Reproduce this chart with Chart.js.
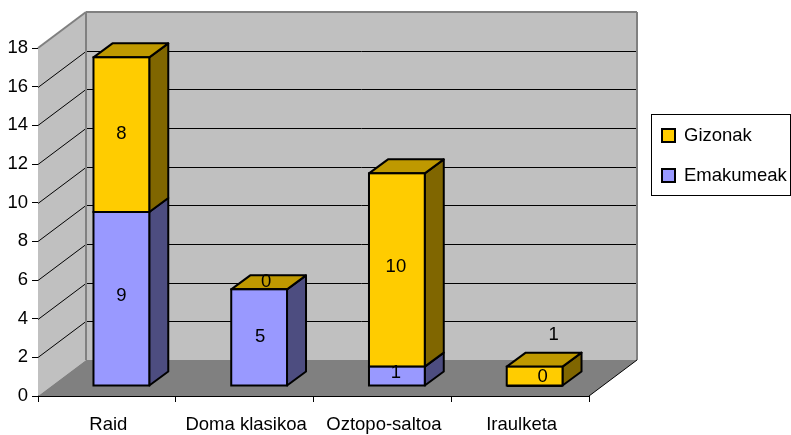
<!DOCTYPE html>
<html>
<head>
<meta charset="utf-8">
<style>html,body{margin:0;padding:0;background:#fff}canvas{display:block}</style>
<script src="https://cdn.jsdelivr.net/npm/chart.js@4"></script>
</head>
<body>
<canvas id="c" width="791" height="435"></canvas>
<script>
const categories = ["Raid", "Doma klasikoa", "Oztopo-saltoa", "Iraulketa"];
const emakumeak = [9, 5, 1, 0];
const gizonak = [8, 0, 10, 1];
const yTicks = [0, 2, 4, 6, 8, 10, 12, 14, 16, 18];

const FONT_SIZE = 18.5;
const FONT = FONT_SIZE + 'px "Liberation Sans", Arial, sans-serif';
const WALL = {dx: 48, dy: -36};
const BAR_SHIFT = {dx: 14.5, dy: -10};
const BAR_DEPTH = {dx: 19, dy: -14};
const FACES = {
  Emakumeak: {front: '#9999FF', side: '#4D4D80', top: '#7373BF'},
  Gizonak: {front: '#FFCC00', side: '#806600', top: '#BF9900'}
};
// where Excel left each value label, relative to the middle of its segment
const LABEL_NUDGE = {
  Emakumeak: [[0, -3], [1, -1], [-1, -3], [8, -9]],
  Gizonak: [[0, -1], [7, -7], [-1, -3], [19, -41]]
};

function poly(ctx, pts, fill, stroke, lw) {
  ctx.beginPath();
  pts.forEach((p, i) => i ? ctx.lineTo(p[0], p[1]) : ctx.moveTo(p[0], p[1]));
  ctx.closePath();
  if (fill) { ctx.fillStyle = fill; ctx.fill(); }
  if (stroke) { ctx.strokeStyle = stroke; ctx.lineWidth = lw; ctx.stroke(); }
}
function line(ctx, x1, y1, x2, y2, color, lw) {
  ctx.beginPath(); ctx.moveTo(x1, y1); ctx.lineTo(x2, y2);
  ctx.strokeStyle = color; ctx.lineWidth = lw; ctx.stroke();
}

const room3d = {
  id: 'room3d',
  beforeDatasetsDraw(chart) {
    const {ctx, chartArea: a, scales} = chart;
    const L = a.left, R = a.right, T = a.top, B = a.bottom, dx = WALL.dx, dy = WALL.dy;
    ctx.save();
    poly(ctx, [[L + dx, T + dy], [R + dx, T + dy], [R + dx, B + dy], [L + dx, B + dy]], '#C0C0C0');
    poly(ctx, [[L, T], [L + dx, T + dy], [L + dx, B + dy], [L, B]], '#C0C0C0');
    scales.y.ticks.forEach(t => {
      if (t.value === 0 || t.value === 18) return;
      const y = Math.round(scales.y.getPixelForValue(t.value)) + 0.5;
      line(ctx, L, y, L + dx, y + dy, '#000', 1);
      line(ctx, L + dx, y + dy, R + dx, y + dy, '#000', 1);
    });
    poly(ctx, [[L, B], [R, B], [R + dx, B + dy], [L + dx, B + dy]], '#808080');
    ctx.lineJoin = 'miter';
    line(ctx, L + dx, T + dy, L + dx, B + dy, '#808080', 2);
    line(ctx, L + dx, T + dy, R + dx, T + dy, '#808080', 2);
    line(ctx, R + dx, T + dy, R + dx, B + dy, '#808080', 2);
    line(ctx, L, T, L + dx, T + dy, '#808080', 2);
    line(ctx, R, B, R + dx, B + dy, '#000', 1);

    // sides and tops of the bars, taken from the bar elements
    const metas = chart.getSortedVisibleDatasetMetas();
    ctx.translate(BAR_SHIFT.dx, BAR_SHIFT.dy);
    ctx.lineJoin = 'round';
    metas.forEach((meta, m) => {
      const faces = FACES[chart.data.datasets[meta.index].label];
      meta.data.forEach(bar => {
        const r = bar.x + bar.width / 2, l = bar.x - bar.width / 2;
        const d = BAR_DEPTH;
        if (bar.base !== bar.y) {
          poly(ctx, [[r, bar.y], [r + d.dx, bar.y + d.dy], [r + d.dx, bar.base + d.dy], [r, bar.base]], faces.side, '#000', 2);
        }
        if (m === metas.length - 1) {
          poly(ctx, [[l, bar.y], [r, bar.y], [r + d.dx, bar.y + d.dy], [l + d.dx, bar.y + d.dy]], faces.top, '#000', 2);
        }
      });
    });
    ctx.restore();
  },
  beforeDatasetDraw(chart) {
    chart.ctx.save();
    chart.ctx.translate(BAR_SHIFT.dx, BAR_SHIFT.dy);
  },
  afterDatasetDraw(chart, args) {
    const ctx = chart.ctx;
    ctx.strokeStyle = '#000'; ctx.lineWidth = 2;
    args.meta.data.forEach(bar => {
      ctx.strokeRect(bar.x - bar.width / 2, bar.y, bar.width, bar.base - bar.y);
    });
    ctx.restore();
  },
  afterDatasetsDraw(chart) {
    const ctx = chart.ctx;
    ctx.save();
    ctx.font = FONT; ctx.fillStyle = '#000'; ctx.textAlign = 'center'; ctx.textBaseline = 'middle';
    chart.getSortedVisibleDatasetMetas().forEach(meta => {
      const ds = chart.data.datasets[meta.index];
      meta.data.forEach((bar, i) => {
        const n = LABEL_NUDGE[ds.label][i];
        ctx.fillText(String(ds.data[i]), bar.x + BAR_SHIFT.dx + n[0], (bar.y + bar.base) / 2 + BAR_SHIFT.dy + n[1]);
      });
    });
    ctx.restore();
  },
  afterDraw(chart) {
    const ctx = chart.ctx;
    ctx.save();
    ctx.fillStyle = '#fff'; ctx.strokeStyle = '#000'; ctx.lineWidth = 1;
    ctx.fillRect(651.5, 114.5, 139, 81); ctx.strokeRect(651.5, 114.5, 139, 81);
    ctx.font = FONT; ctx.textBaseline = 'middle'; ctx.textAlign = 'left';
    [...chart.data.datasets].reverse().forEach((ds, i) => {
      const y = 135 + i * 40;
      ctx.fillStyle = ds.backgroundColor; ctx.strokeStyle = '#000'; ctx.lineWidth = 2;
      ctx.fillRect(662, y - 6, 13, 13); ctx.strokeRect(662, y - 6, 13, 13);
      ctx.fillStyle = '#000';
      ctx.fillText(ds.label, 684, y + 1);
    });
    ctx.restore();
  }
};

const fontOpt = {family: '"Liberation Sans", Arial, sans-serif', size: FONT_SIZE};
new Chart(document.getElementById('c'), {
  type: 'bar',
  data: {
    labels: categories,
    datasets: [
      {label: 'Emakumeak', data: emakumeak, backgroundColor: FACES.Emakumeak.front},
      {label: 'Gizonak', data: gizonak, backgroundColor: FACES.Gizonak.front}
    ].map(d => Object.assign(d, {borderWidth: 0, barPercentage: 0.405, categoryPercentage: 1, clip: false}))
  },
  options: {
    responsive: false,
    animation: false,
    devicePixelRatio: 1,
    layout: {padding: {top: 48, right: 202, left: 0, bottom: 0}},
    plugins: {legend: {display: false}, tooltip: {enabled: false}, title: {display: false}},
    scales: {
      x: {
        stacked: true,
        afterFit(s) { s.height = 39; },
        grid: {offset: true, drawOnChartArea: false, drawTicks: true, tickLength: 6, color: '#000', tickColor: '#000'},
        border: {color: '#000', width: 1},
        ticks: {color: '#000', font: fontOpt, padding: 12, labelOffset: 1.5, maxRotation: 0, autoSkip: false}
      },
      y: {
        stacked: true,
        min: 0, max: 18,
        afterBuildTicks(s) { s.ticks = yTicks.map(v => ({value: v})); },
        afterFit(s) { s.width = 38; },
        grid: {drawOnChartArea: false, drawTicks: true, tickLength: 6, color: '#000', tickColor: '#000'},
        border: {color: '#000', width: 1},
        ticks: {color: '#000', font: fontOpt, padding: 4}
      }
    }
  },
  plugins: [room3d]
});
</script>
</body>
</html>
